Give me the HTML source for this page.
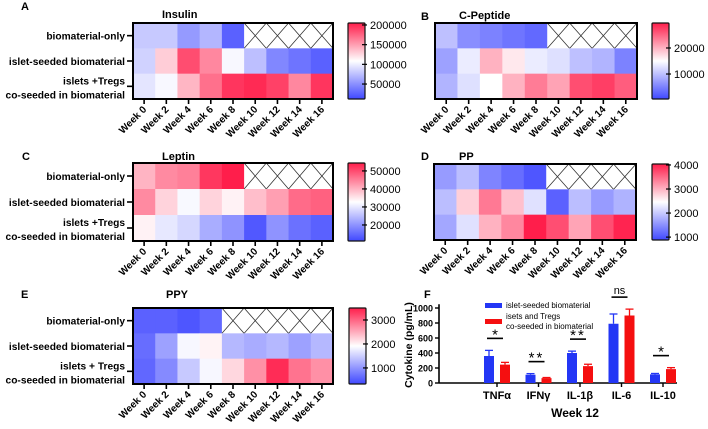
<!DOCTYPE html>
<html><head><meta charset="utf-8">
<style>
html,body{margin:0;padding:0;background:#fff;}
svg{display:block;font-family:"Liberation Sans",Arial,sans-serif;}
</style></head>
<body>
<svg id="fig" width="708" height="429" viewBox="0 0 708 429"></svg>
<script>
const weeks = ["Week 0","Week 2","Week 4","Week 6","Week 8","Week 10","Week 12","Week 14","Week 16"];
const rowLabels = [["biomaterial-only"],["islet-seeded biomaterial"],["islets +Tregs","co-seeded in biomaterial"]];
const rowLabelsE = [["biomaterial-only"],["islet-seeded biomaterial"],["islets + Tregs","co-seeded in biomaterial"]];
const insulinVals = [[80000,80000,55000,70000,25000],[85000,130000,185000,160000,105000,75000,45000,35000,25000],[95000,105000,140000,170000,195000,200000,190000,160000,195000]];
const cpepVals = [[10000,6000,5000,4000,3000],[7500,13500,20000,16500,13500,12500,10000,9000,5000],[9000,12500,15000,20000,23500,21000,26500,27500,25500]];
const leptinVals = [[40000,44000,45000,52000,56000],[44000,37000,32000,37000,34000,39000,42000,47000,48000],[34000,30000,28000,23000,20000,13000,20000,16000,14000]];
const ppVals = [[1600,1900,1400,1200,1000],[1900,2800,3400,2900,2200,1100,1900,1600,1800],[1700,2200,3000,3300,4100,3700,3100,3700,4000]];
const ppyVals = [[550,550,450,600],[650,1100,1850,2000,1300,1200,1300,1100,1300],[600,900,1450,1850,2200,2700,3400,2900,2700]];
const insulinTicks = [50000,100000,150000,200000];
const cpepTicks = [10000,20000];
const leptinTicks = [20000,30000,40000,50000];
const ppTicks = [1000,2000,3000,4000];
const ppyTicks = [1000,2000,3000];
const cytCats = ["TNFα","IFNγ","IL-1β","IL-6","IL-10"];
const isletVals = [360,110,400,790,115];
const isletErr = [75,15,25,130,12];
const tregVals = [245,65,225,900,185];
const tregErr = [30,8,25,85,20];
const sigLabels = ["*","**","**","ns","*"];
const yTicks = [0,200,400,600,800,1000];

const NS="http://www.w3.org/2000/svg";
const svg=document.getElementById('fig');
function mk(tag,attrs,parent){const e=document.createElementNS(NS,tag);for(const k in attrs)e.setAttribute(k,attrs[k]);(parent||svg).appendChild(e);return e;}
function txt(x,y,s,attrs,parent){const t=mk('text',Object.assign({x:x,y:y},attrs||{}),parent);t.textContent=s;return t;}
const B=[64,72,255],W=[255,255,255],R=[255,30,75];
function cmap(v,vmin,vmax){let t=(v-vmin)/(vmax-vmin);t=Math.max(0,Math.min(1,t));let a,b,u;
 if(t<0.5){a=B;b=W;u=t/0.5;}else{a=W;b=R;u=(t-0.5)/0.5;}
 return 'rgb('+a.map((c,i)=>Math.round(c+(b[i]-c)*u)).join(',')+')';}

function heatmap(cfg){
 const g=mk('g',{});
 
 
 const {x0,x1,y0,y1}=cfg; const cw=(x1-x0)/9, rh=(y1-y0)/3;
 const cx=i=>x0+i*cw, ry=j=>y0+j*rh;
 cfg.vals.forEach((row,j)=>{
  for(let i=0;i<9;i++){
   if(i<row.length){
    const r=mk('rect',{x:cx(i),y:ry(j),width:cw+0.5,height:rh+0.5,fill:cmap(row[i],cfg.vmin,cfg.vmax)},g);
    
    
   } else {
    const r=mk('rect',{x:cx(i),y:ry(j),width:cw,height:rh,fill:'#fff'},g);
    
    
    mk('line',{x1:cx(i),y1:ry(j),x2:cx(i+1),y2:ry(j+1),stroke:'#333','stroke-width':0.8},g);
    mk('line',{x1:cx(i),y1:ry(j+1),x2:cx(i+1),y2:ry(j),stroke:'#333','stroke-width':0.8},g);
   }
  }
 });
 mk('rect',{x:x0,y:y0,width:x1-x0,height:y1-y0,fill:'none',stroke:'#000','stroke-width':2},g);
 if(cfg.rows){
  cfg.rows.forEach((lab,j)=>{
   const yc=ry(j)+rh/2;
   mk('line',{x1:x0-6,y1:yc,x2:x0,y2:yc,stroke:'#000','stroke-width':1.6},g);
   if(lab.length===1){const t=txt(x0-8,yc+4,lab[0],{'text-anchor':'end','font-size':10.2,'font-weight':'bold'},g);
     }
   else{lab.forEach((l,k)=>{const t=txt(x0-8,yc-2+k*14,l,{'text-anchor':'end','font-size':10.2,'font-weight':'bold'},g);
     });}
  });
 }
 weeks.forEach((w,i)=>{
  const xc=cx(i)+cw/2;
  mk('line',{x1:xc,y1:y1,x2:xc,y2:y1+5,stroke:'#000','stroke-width':1.6},g);
  const t=txt(xc+3,y1+11,w,{'text-anchor':'end','font-size':10,'font-weight':'bold',transform:'rotate(-45 '+(xc+3)+' '+(y1+11)+')'},g);
  
 });
 const tt=txt(cfg.tx,cfg.ty,cfg.title,{'font-size':11,'font-weight':'bold'},g);
 
 const pl=txt(cfg.px,cfg.py,cfg.panel,{'font-size':11,'font-weight':'bold'},g);
 
 const id='grad-'+cfg.name;
 const defs=mk('defs',{},g);
 const lg=mk('linearGradient',{id:id,x1:0,y1:1,x2:0,y2:0},defs);
 for(let k=0;k<=10;k++){mk('stop',{offset:k/10,'stop-color':cmap(cfg.vmin+(cfg.vmax-cfg.vmin)*k/10,cfg.vmin,cfg.vmax)},lg);}
 const cb=mk('rect',{x:cfg.cbx,y:y0,width:17,height:y1-y0,fill:'url(#'+id+')',stroke:'#111','stroke-width':1.2,rx:1},g);
 
 const ys=v=>y1-(v-cfg.vmin)/(cfg.vmax-cfg.vmin)*(y1-y0);
 cfg.ticks.forEach(v=>{
  mk('line',{x1:cfg.cbx+14,y1:ys(v),x2:cfg.cbx+19,y2:ys(v),stroke:'#000','stroke-width':1.2},g);
  const t=txt(cfg.cbx+22,ys(v)+4,String(v),{'font-size':11},g);
  
 });
}
heatmap({name:'insulin',vals:insulinVals,vmin:12000,vmax:205000,ticks:insulinTicks,x0:133,x1:333,y0:23,y1:99,rows:rowLabels,title:'Insulin',tx:162,ty:18,panel:'A',px:21,py:10,cbx:348});
heatmap({name:'c-peptide',vals:cpepVals,vmin:400,vmax:29600,ticks:cpepTicks,x0:435,x1:637,y0:23,y1:99,rows:null,title:'C-Peptide',tx:459,ty:19,panel:'B',px:421,py:20,cbx:652});
heatmap({name:'leptin',vals:leptinVals,vmin:11100,vmax:54400,ticks:leptinTicks,x0:133,x1:333,y0:163,y1:241,rows:rowLabels,title:'Leptin',tx:162,ty:160,panel:'C',px:22,py:160,cbx:348});
heatmap({name:'pp',vals:ppVals,vmin:880,vmax:4040,ticks:ppTicks,x0:434,x1:636,y0:164,y1:240,rows:null,title:'PP',tx:459,ty:160,panel:'D',px:421,py:160,cbx:652});
heatmap({name:'ppy',vals:ppyVals,vmin:330,vmax:3500,ticks:ppyTicks,x0:133,x1:333,y0:308,y1:384,rows:rowLabelsE,title:'PPY',tx:166,ty:298,panel:'E',px:21,py:298,cbx:349});

(function(){
 const g=mk('g',{});
 
 
 const ax=439, y0=383, y1000=308, xEnd=677;
 const ys=v=>y0-(v/1000)*(y0-y1000);
 const cx=i=>497+i*41.5;
 mk('line',{x1:ax,y1:y0,x2:ax,y2:ys(1050),stroke:'#000','stroke-width':1.6},g);
 mk('line',{x1:ax,y1:y0,x2:xEnd,y2:y0,stroke:'#000','stroke-width':1.6},g);
 yTicks.forEach(v=>{
  mk('line',{x1:ax-4,y1:ys(v),x2:ax,y2:ys(v),stroke:'#000','stroke-width':1.4},g);
  const t=txt(ax-6,ys(v)+3.5,String(v),{'text-anchor':'end','font-size':9,'font-weight':'bold'},g);
  
 });
 const yl=txt(412,345,'Cytokine (pg/mL)',{'text-anchor':'middle','font-size':10.5,'font-weight':'bold',transform:'rotate(-90 412 345)'},g);
 
 cytCats.forEach((c,i)=>{
  const xc=cx(i);
  mk('line',{x1:xc,y1:y0,x2:xc,y2:y0+4,stroke:'#000','stroke-width':1.4},g);
  const t=txt(xc,y0+16,c,{'text-anchor':'middle','font-size':11,'font-weight':'bold'},g);
  
  [[isletVals,isletErr,'#2336f5',-13],[tregVals,tregErr,'#f50f10',3]].forEach(([vals,errs,col,off],k)=>{
   const v=vals[i], e=errs[i];
   mk('line',{x1:xc+off+5,y1:ys(v),x2:xc+off+5,y2:ys(v+e),stroke:col,'stroke-width':1.3},g);
   mk('line',{x1:xc+off+1,y1:ys(v+e),x2:xc+off+9,y2:ys(v+e),stroke:col,'stroke-width':1.3},g);
   const r=mk('rect',{x:xc+off,y:ys(v),width:10,height:y0-ys(v),fill:col},g);
   
   
  });
  const top=Math.max(isletVals[i]+isletErr[i],tregVals[i]+tregErr[i]);
  const ly=ys(top)-12;
  mk('line',{x1:xc-10,y1:ly,x2:xc+6,y2:ly,stroke:'#000','stroke-width':1.6},g);
  const s=sigLabels[i];
  const st=txt(xc-2,s==='ns'?ly-3:ly+1,s,{'text-anchor':'middle','font-size':s==='ns'?11:15,'letter-spacing':s==='**'?'2':'0'},g);
  
 });
 const xt=txt(575,417,'Week 12',{'text-anchor':'middle','font-size':12,'font-weight':'bold'},g);
 
 const pl=txt(424,298,'F',{'font-size':11,'font-weight':'bold'},g);
 
 const l1=mk('rect',{x:485,y:303,width:17,height:5,fill:'#2336f5'},g);
 
 const t1=txt(506,308,'islet-seeded biomaterial',{'font-size':8},g);
 
 const l2=mk('rect',{x:485,y:319,width:17,height:5,fill:'#f50f10'},g);
 
 const t2=txt(506,319,'isets and Tregs',{'font-size':8},g);
 
 const t3=txt(506,329,'co-seeded in biomaterial',{'font-size':8},g);
 
})();
</script>
</body></html>
